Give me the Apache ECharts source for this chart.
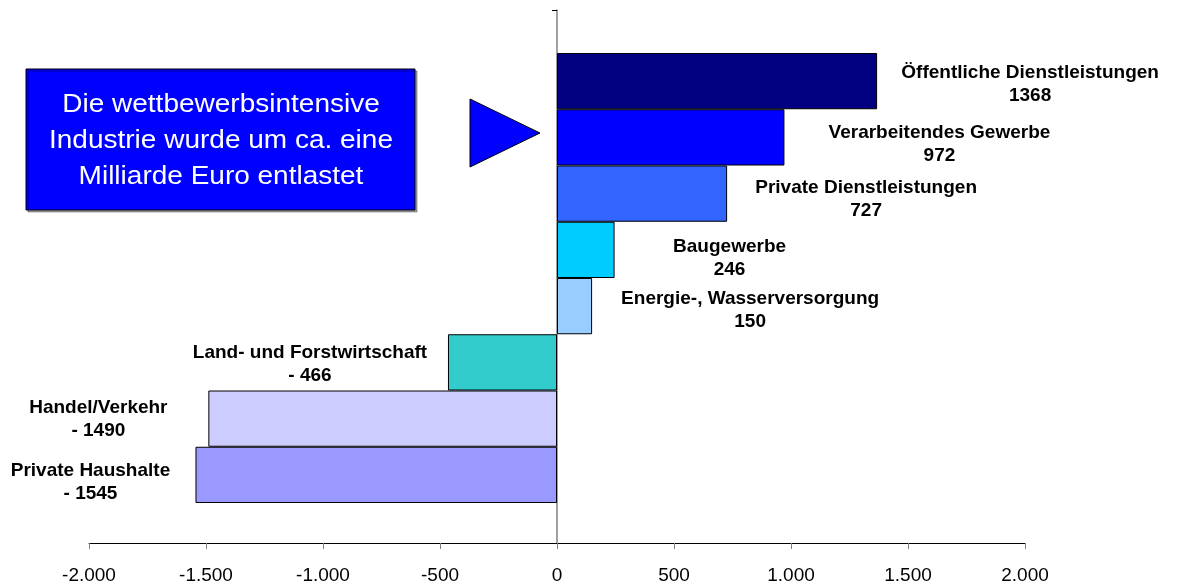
<!DOCTYPE html>
<html>
<head>
<meta charset="utf-8">
<script src="https://cdn.jsdelivr.net/npm/echarts/dist/echarts.min.js"></script>
<style>
  html, body { margin: 0; padding: 0; background: #fff; }
  #main { width: 1182px; height: 585px; }
</style>
</head>
<body>
<div id="main"></div>
<script>
var sectors = ['Öffentliche Dienstleistungen', 'Verarbeitendes Gewerbe', 'Private Dienstleistungen', 'Baugewerbe',
  'Energie-, Wasserversorgung', 'Land- und Forstwirtschaft', 'Handel/Verkehr', 'Private Haushalte']
var values = [1368, 972, 727, 246, 150, -466, -1490, -1545]
var tickValues = [-2000, -1500, -1000, -500, 0, 500, 1000, 1500, 2000]
var tickLabels = ['-2.000', '-1.500', '-1.000', '-500', '0', '500', '1.000', '1.500', '2.000']
var boxText = ['Die wettbewerbsintensive', 'Industrie wurde um ca. eine', 'Milliarde Euro entlastet']

var colors = ['#000080', '#0000FF', '#3366FF', '#00CCFF', '#99CCFF', '#33CCCC', '#CCCCFF', '#9999FF']
// label centre relative to the bar end, the Excel labels were moved by hand
var labelShift = [[153, 3], [155, 7], [139, 6], [115, 8], [158, 4], [-138, 2], [-110, 1], [-105, 7]]

var myChart = echarts.init(document.getElementById('main'))

var option = {
  animation: false,
  grid: [
    { left: 89, right: 157, top: 10, bottom: 40 },
    { left: 89, right: 157, top: 53, height: 450 }
  ],
  xAxis: [
    {
      gridIndex: 0,
      type: 'value',
      min: tickValues[0],
      max: tickValues[tickValues.length - 1],
      interval: 500,
      splitLine: { show: false },
      axisLine: { onZero: false, lineStyle: { color: '#000', width: 1 } },
      axisTick: { show: true, length: 6, lineStyle: { color: '#808080' } },
      axisLabel: {
        margin: 23,
        color: '#000',
        fontFamily: 'Arial, Liberation Sans',
        fontSize: 19,
        formatter: function (v) {
          return tickLabels[tickValues.indexOf(v)]
        }
      }
    },
    {
      gridIndex: 1,
      type: 'value',
      min: tickValues[0],
      max: tickValues[tickValues.length - 1],
      show: false
    }
  ],
  yAxis: [
    {
      gridIndex: 0,
      type: 'value',
      min: 0,
      max: 1,
      interval: 1,
      splitLine: { show: false },
      axisLabel: { show: false },
      axisLine: { show: true, onZero: true, lineStyle: { color: '#808080', width: 1.5 } },
      axisTick: { show: true, length: 5, lineStyle: { color: '#000' } }
    },
    {
      gridIndex: 1,
      type: 'category',
      data: sectors,
      inverse: true,
      show: false
    }
  ],
  series: [{
    type: 'bar',
    xAxisIndex: 1,
    yAxisIndex: 1,
    barCategoryGap: 0,
    data: values.map(function (v, i) {
      return {
        value: v,
        itemStyle: { color: colors[i] },
        label: {
          position: v < 0 ? 'left' : 'right',
          distance: 0,
          offset: labelShift[i]
        }
      }
    }),
    itemStyle: { borderColor: '#000', borderWidth: 1 },
    label: {
      show: true,
      align: 'center',
      verticalAlign: 'middle',
      color: '#000',
      fontFamily: 'Arial, Liberation Sans',
      fontWeight: 'bold',
      fontSize: 19,
      lineHeight: 23,
      formatter: function (p) {
        var v = p.value < 0 ? '- ' + Math.abs(p.value) : p.value
        return p.name + '\n' + v
      }
    }
  }],
  graphic: [
    {
      type: 'rect',
      shape: { x: 26, y: 69, width: 389, height: 141 },
      style: { fill: '#0000FF', stroke: '#000', lineWidth: 1, shadowColor: 'rgba(0,0,0,0.35)', shadowOffsetX: 2, shadowOffsetY: 2 }
    },
    {
      type: 'text',
      x: 221,
      y: 141,
      scaleX: 1.12,
      style: {
        text: boxText.join('\n'),
        x: 0,
        y: 0,
        align: 'center',
        verticalAlign: 'middle',
        font: '25px Arial, Liberation Sans',
        lineHeight: 36,
        fill: '#fff'
      }
    },
    {
      type: 'polygon',
      shape: { points: [[470, 99], [470, 167], [540, 133]] },
      style: { fill: '#0000FF', stroke: '#000', lineWidth: 1 }
    }
  ]
}

myChart.setOption(option)
window.addEventListener('resize', function () {
  myChart.resize()
})
</script>
</body>
</html>
